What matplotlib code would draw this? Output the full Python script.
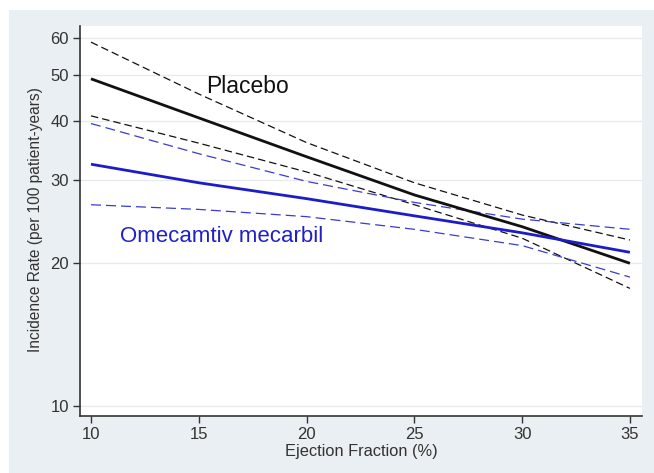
import matplotlib
matplotlib.use("Agg")
import matplotlib.pyplot as plt
from matplotlib.patches import Rectangle
from matplotlib.ticker import FixedLocator, NullLocator

plt.rcParams['font.family'] = ['Liberation Sans', 'DejaVu Sans']

ef = [10, 15, 20, 25, 30, 35]
placebo = [49.1, 40.6, 33.6, 27.9, 23.9, 20.0]
placebo_hi = [58.7, 45.6, 36.0, 29.6, 25.3, 22.4]
placebo_lo = [41.0, 35.9, 31.2, 26.6, 22.6, 17.7]
omec = [32.4, 29.6, 27.4, 25.2, 23.2, 21.1]
omec_hi = [39.5, 34.1, 29.8, 26.9, 24.8, 23.6]
omec_lo = [26.6, 26.0, 25.1, 23.6, 21.8, 18.7]

xticks = [10, 15, 20, 25, 30, 35]
yticks = [10, 20, 30, 40, 50, 60]

W, H = 654, 473
fig = plt.figure(figsize=(W / 100, H / 100), dpi=100, facecolor='white')
fig.patches.append(Rectangle((9 / W, 0), 1, 1 - 10 / H, transform=fig.transFigure,
                             facecolor='#e9eff2', edgecolor='none', zorder=-10))

ax = fig.add_axes([80 / W, 1 - 416 / H, 562 / W, 390 / H])
ax.set_facecolor('white')
ax.set_yscale('log')
ax.set_xlim(9.49, 35.56)
ax.set_ylim(9.51, 63.5)

for y in yticks:
    ax.axhline(y, color='#e6eaec', lw=0.9, zorder=0)

blk = '#111111'
blu = '#1c1cc8'
blu_d = '#3b3bd0'

ax.plot(ef, placebo_hi, color=blk, lw=0.9, dashes=(6, 3.2), zorder=2)
ax.plot(ef, placebo_lo, color=blk, lw=0.9, dashes=(6, 3.2), zorder=2)
ax.plot(ef, placebo, color=blk, lw=2.0, zorder=3, solid_capstyle='butt')
ax.plot(ef, omec_hi, color=blu_d, lw=0.9, dashes=(8, 4), zorder=2)
ax.plot(ef, omec_lo, color=blu_d, lw=0.9, dashes=(8, 4), zorder=2)
ax.plot(ef, omec, color=blu, lw=2.0, zorder=3, solid_capstyle='butt')

ax.text(206 / W, 1 - 86 / H, 'Placebo', transform=fig.transFigure, fontsize=16.5,
        color='#111111', ha='left', va='center')
ax.text(120 / W, 1 - 236 / H, 'Omecamtiv mecarbil', transform=fig.transFigure,
        fontsize=16, color='#2020c8', ha='left', va='center')

ax.yaxis.set_major_locator(FixedLocator(yticks))
ax.yaxis.set_minor_locator(NullLocator())
ax.set_yticklabels([str(v) for v in yticks])
ax.xaxis.set_major_locator(FixedLocator(xticks))
ax.set_xticklabels([str(v) for v in xticks])

ax.tick_params(axis='both', direction='out', length=5, width=1, color='#333333',
               labelsize=12, labelcolor='#333333', pad=3)

for s in ['top', 'right']:
    ax.spines[s].set_visible(False)
for s in ['left', 'bottom']:
    ax.spines[s].set_color('#333333')
    ax.spines[s].set_linewidth(1.2)

fig.text(36 / W, 1 - 220 / H, 'Incidence Rate (per 100 patient-years)', rotation=90,
         ha='center', va='center', fontsize=11.2, color='#333333')
fig.text(361 / W, 1 - 451 / H, 'Ejection Fraction (%)', ha='center', va='center',
         fontsize=11.8, color='#333333')

fig.savefig('out.png', dpi=100, facecolor=fig.get_facecolor())
